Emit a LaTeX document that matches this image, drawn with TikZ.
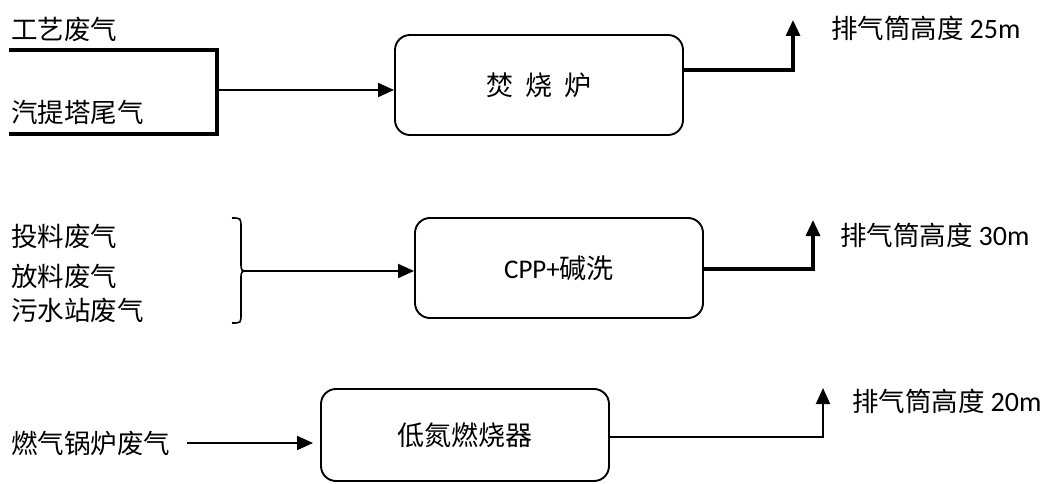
\documentclass[tikz,border=0pt]{standalone}
\usepackage{fontspec}
\setmainfont{Carlito}
\newfontfamily\cjk{Noto Sans CJK SC}
\usetikzlibrary{arrows.meta}
\tikzset{
  proc/.style={draw, line width=1.9pt, rounded corners=15pt, minimum width=288pt, minimum height=100pt, inner sep=0pt, font=\fontsize{27}{32}\selectfont},
  lbl/.style={anchor=west, inner sep=0pt, font=\fontsize{26.5}{30}\selectfont},
  tip/.style={-{Triangle[length=16pt,width=14pt]}},
  thin/.style={line width=1.9pt},
  thick/.style={line width=3.2pt},
}
\begin{document}
\begin{tikzpicture}[x=1pt,y=-1pt]
\useasboundingbox (0,0) rectangle (1052,484);
% inputs
\node[lbl] (in1) at (11,29) {\cjk 工艺废气};
\node[lbl] (in2) at (11,112) {\cjk 汽提塔尾气};
\node[lbl] (in3) at (11,236) {\cjk 投料废气};
\node[lbl] (in4) at (11,276) {\cjk 放料废气};
\node[lbl] (in5) at (11,310) {\cjk 污水站废气};
\node[lbl] (in6) at (11,443) {\cjk 燃气锅炉废气};
% process boxes
\node[proc] (b1) at (539,85) {\cjk 焚\hspace{0.45em}烧\hspace{0.45em}炉};
\node[proc] (b2) at (559,268) {CPP+{\cjk 碱洗}};
\node[proc, minimum height=92pt] (b3) at (465,435) {\cjk 低氮燃烧器};
% outputs
\node[lbl] (o1) at (831,28) {{\cjk 排气筒高度} {\fontsize{28}{30}\selectfont 25m}};
\node[lbl] (o2) at (840,235) {{\cjk 排气筒高度} {\fontsize{28}{30}\selectfont 30m}};
\node[lbl] (o3) at (852,401) {{\cjk 排气筒高度} {\fontsize{28}{30}\selectfont 20m}};
% top bracket
\coordinate (t1) at (9,50);
\coordinate (t2) at (217,50);
\coordinate (t3) at (217,134);
\coordinate (t4) at (9,134);
\coordinate (j1) at (217,90);
\draw[thick, line join=miter] (t1) -- (t2) -- (t3) -- (t4);
\draw[thin, tip] (j1) -- (b1.west |- j1);
% brace
\coordinate (br) at (248,271);
\draw[line width=1.6pt] (232,218) .. controls (241,218) .. (241,228) -- (241,262) .. controls (241,271) .. (br)
  .. controls (241,271) .. (241,280) -- (241,314) .. controls (241,323) .. (232,323);
\draw[thin, tip] (br) -- (b2.west |- br);
% bottom input
\coordinate (j3) at (187,443);
\draw[thin, tip, shorten >=7pt] (j3) -- (b3.west |- j3);
% output connectors
\coordinate (e1) at (793,20);
\coordinate (e2) at (813,220);
\coordinate (e3) at (823,388);
\draw[thick, tip] ([yshift=15pt]b1.east) -| (e1);
\draw[thick, tip] ([yshift=-1pt]b2.east) -| (e2);
\draw[thin, tip] ([yshift=-2pt]b3.east) -| (e3);
\end{tikzpicture}
\end{document}
